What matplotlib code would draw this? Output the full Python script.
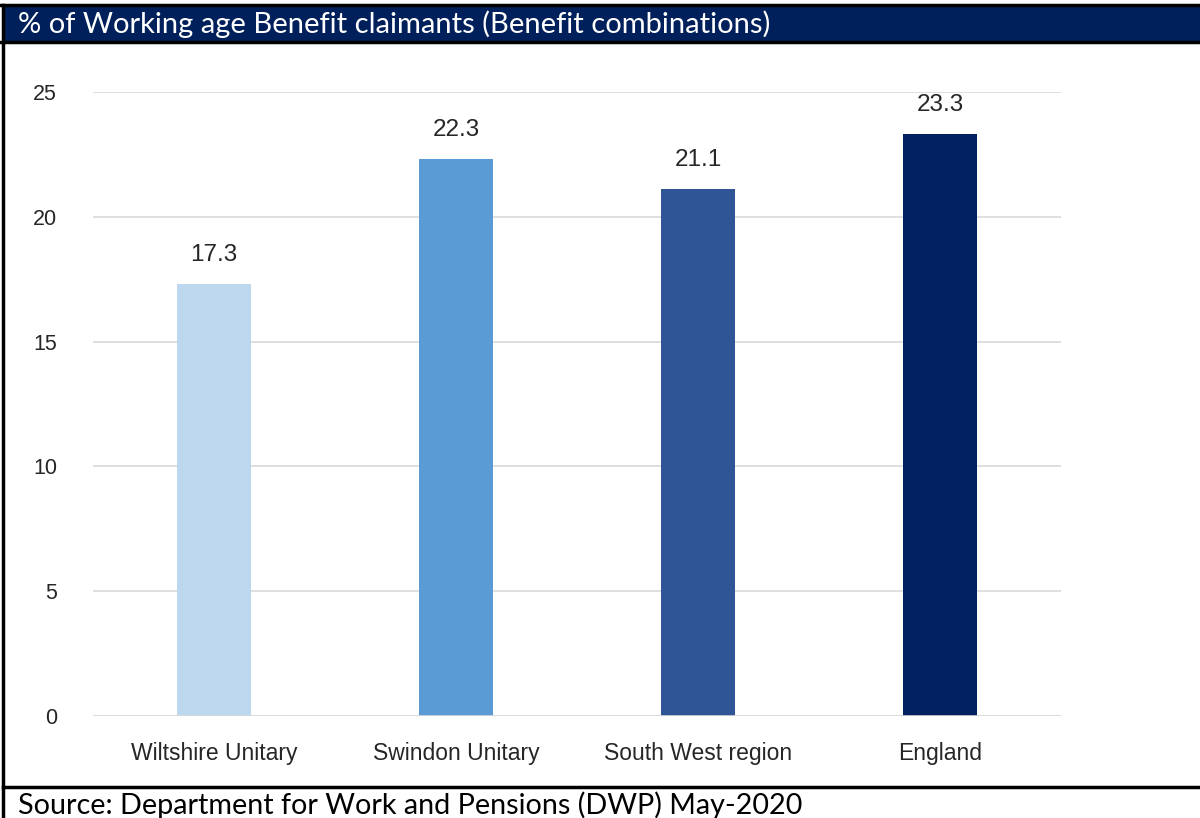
import matplotlib.pyplot as plt
from matplotlib.patches import Rectangle
from matplotlib.lines import Line2D

# Données : % de bénéficiaires en âge de travailler (combinaisons de prestations)
zones = ['Wiltshire Unitary', 'Swindon Unitary', 'South West region', 'England']
valeurs = [17.3, 22.3, 21.1, 23.3]
couleurs = ['#BDD7EE', '#5B9BD5', '#2F5597', '#002060']
graduations = [0, 5, 10, 15, 20, 25]

titre = '% of Working age Benefit claimants (Benefit combinations)'
source = 'Source: Department for Work and Pensions (DWP) May-2020'

W, H = 1200, 818
fig = plt.figure(figsize=(W / 100, H / 100), dpi=100)
fig.patch.set_facecolor('white')

# Bandeau du titre
fig.add_artist(Rectangle((2 / W, 1 - 42 / H), 1 - 2 / W, 37 / H,
                         transform=fig.transFigure, facecolor='#00205B', edgecolor='none'))
fig.text(18 / W, 1 - 24 / H, titre, color='white', fontsize=21,
         family='Lato', va='center', ha='left')

# Bordures
fig.add_artist(Line2D([0, 1], [1 - 5 / H, 1 - 5 / H], color='black', lw=2.5))
fig.add_artist(Line2D([0, 1], [1 - 42 / H, 1 - 42 / H], color='black', lw=2.5))
fig.add_artist(Line2D([3 / W, 3 / W], [0, 1 - 5 / H], color='black', lw=2.5))
fig.add_artist(Line2D([3 / W, 1], [1 - 787 / H, 1 - 787 / H], color='black', lw=2.5))

fig.text(18 / W, 1 - 805 / H, source, color='black', fontsize=20.7,
         family='Lato', va='center', ha='left')

# Zone du graphique
ax = fig.add_axes([93 / W, 1 - 716 / H, (1061 - 93) / W, (716 - 92) / H])
x = range(len(zones))
barres = ax.bar(x, valeurs, width=0.306, color=couleurs, zorder=3)
for i, v in enumerate(valeurs):
    ax.text(i, v + 0.92, f'{v:.1f}', ha='center', va='baseline', fontsize=17.5,
            family='Liberation Sans', color='#262626')

ax.set_xlim(-0.5, len(zones) - 0.5)
ax.set_ylim(0, 25)
ax.set_yticks(graduations)
ax.set_yticklabels([str(g) for g in graduations], family='Liberation Sans', fontsize=15.5, color='#262626')
ax.set_xticks(list(x))
ax.set_xticklabels(zones, family='Liberation Sans', fontsize=16.5, color='#262626')
ax.tick_params(axis='both', length=0)
ax.tick_params(axis='y', pad=26)
ax.tick_params(axis='x', pad=19)
ax.yaxis.grid(True, color='#D9D9D9', lw=1.2, zorder=0)
for s in ax.spines.values():
    s.set_visible(False)
ax.axhline(0, color='#D9D9D9', lw=1.2, zorder=4)

plt.savefig('out.png', dpi=100)
plt.close()
